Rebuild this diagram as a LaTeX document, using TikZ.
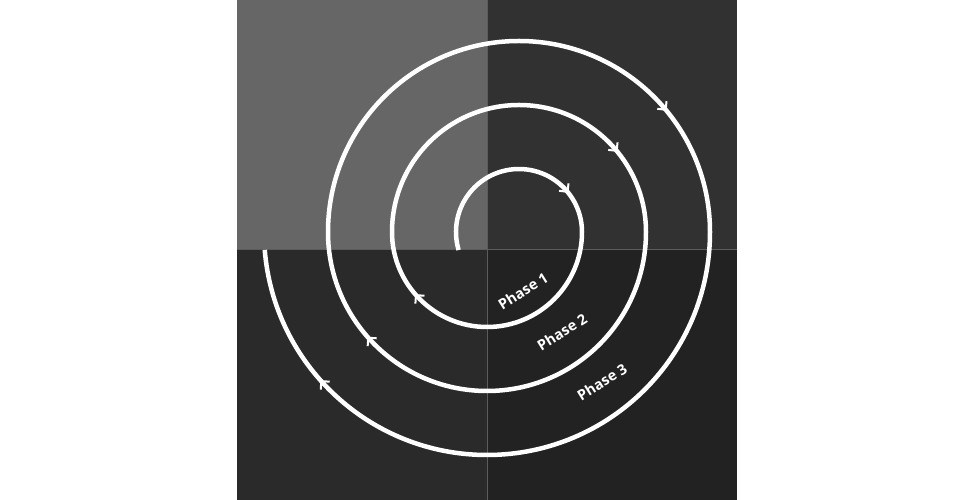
\documentclass[tikz,border=0pt]{standalone}
\usepackage{fontspec}
\setmainfont{Open Sans}
\usetikzlibrary{arrows.meta,decorations.markings}
\definecolor{quadA}{HTML}{666666}
\definecolor{quadB}{HTML}{313131}
\definecolor{quadC}{HTML}{2A2A2A}
\definecolor{quadD}{HTML}{222222}
\definecolor{divider}{HTML}{5C5C5C}
\tikzset{barb/.tip={Straight Barb[length=6pt,width=12pt,line width=2pt]}}

\begin{document}
\begin{tikzpicture}[x=1pt,y=1pt,
    spiral/.style={draw=white, line width=4.5pt,
        postaction={decorate},
        decoration={markings,
            mark=at position 174pt with {\arrow{barb}},
            mark=at position 447pt with {\arrow{barb}},
            mark=at position 827pt with {\arrow{barb}},
            mark=at position 1299pt with {\arrow{barb}},
            mark=at position 1882pt with {\arrow{barb}},
            mark=at position 2552pt with {\arrow{barb}}}},
    phase/.style={text=white, rotate=32, font=\bfseries\fontsize{14.5}{16}\selectfont}]
        \useasboundingbox[fill=white] (0,0) rectangle (970,500);
        % four quarters
        \fill[quadA] (237,250) rectangle (487,500);
        \fill[quadB] (487,250) rectangle (737,500);
        \fill[quadC] (237,0) rectangle (487,250);
        \fill[quadD] (487,0) rectangle (737,250);
        \draw[divider, line width=1pt] 
            (237,250) -- (737,250)
            (487,0) -- (487,500);
        % spiral, upper halves round (519,268), lower halves round (487,268)
        \draw[spiral] (519,268) ++(196.6:63)
            arc[start angle=196.6, end angle=0, radius=63]
            arc[start angle=0, end angle=-180, radius=95]
            arc[start angle=180, end angle=0, radius=127]
            arc[start angle=0, end angle=-180, radius=159]
            arc[start angle=180, end angle=0, radius=191]
            arc[start angle=0, end angle=-175.4, radius=223];
        \node[phase] (p1) at (523,209) {Phase 1};
        \node[phase] (p2) at (562,168) {Phase 2};
        \node[phase] (p3) at (602,118) {Phase 3};
    \end{tikzpicture}
\end{document}
